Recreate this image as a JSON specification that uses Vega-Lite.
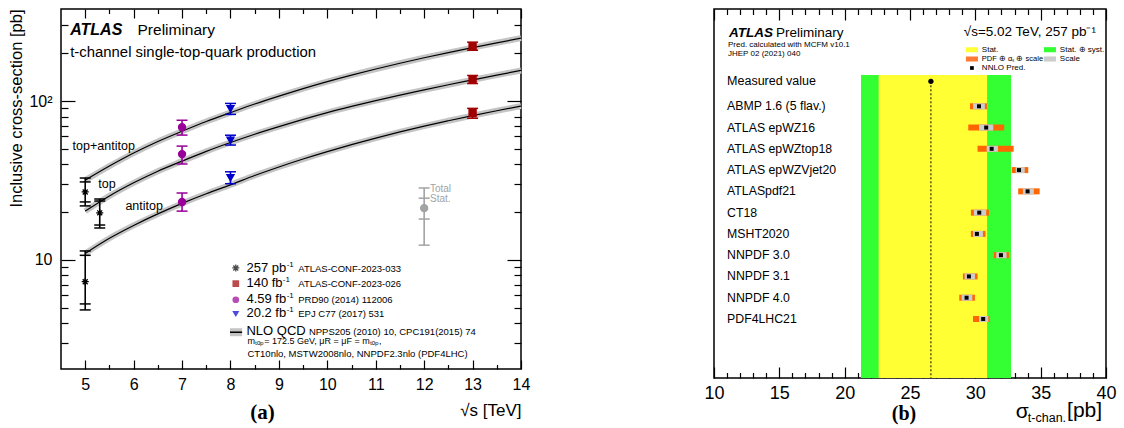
{
"$schema": "https://vega.github.io/schema/vega-lite/v6.json",
"padding": {"left": 8, "top": 7, "right": 0, "bottom": 0},
"spacing": 193,
"bounds": "flush",
"config": {"view": {"stroke": "black", "strokeWidth": 1.5}, "font": "Liberation Sans",
  "axis": {"domain": false, "grid": false, "labelColor": "black", "tickColor": "black", "titleColor": "black", "labelFont": "Liberation Sans", "titleFont": "Liberation Sans", "titleFontWeight": "normal", "tickWidth": 1.2},
  "text": {"font": "Liberation Sans", "color": "black"}},
"datasets": {
 "nlo": [
  {"rs":5,"ch":"top+antitop","xs":31.8},{"rs":5.5,"ch":"top+antitop","xs":39.0},{"rs":6,"ch":"top+antitop","xs":47.1},{"rs":6.5,"ch":"top+antitop","xs":55.7},{"rs":7,"ch":"top+antitop","xs":64.6},{"rs":7.5,"ch":"top+antitop","xs":74.4},{"rs":8,"ch":"top+antitop","xs":84.6},{"rs":8.5,"ch":"top+antitop","xs":95.9},{"rs":9,"ch":"top+antitop","xs":107.6},{"rs":9.5,"ch":"top+antitop","xs":119.9},{"rs":10,"ch":"top+antitop","xs":132.7},{"rs":10.5,"ch":"top+antitop","xs":145.8},{"rs":11,"ch":"top+antitop","xs":159.3},{"rs":11.5,"ch":"top+antitop","xs":173.2},{"rs":12,"ch":"top+antitop","xs":187.4},{"rs":12.5,"ch":"top+antitop","xs":202.0},{"rs":13,"ch":"top+antitop","xs":217.0},{"rs":13.5,"ch":"top+antitop","xs":232.8},{"rs":14,"ch":"top+antitop","xs":249.0},
  {"rs":5,"ch":"top","xs":20.3},{"rs":5.5,"ch":"top","xs":25.3},{"rs":6,"ch":"top","xs":30.6},{"rs":6.5,"ch":"top","xs":36.2},{"rs":7,"ch":"top","xs":41.9},{"rs":7.5,"ch":"top","xs":48.3},{"rs":8,"ch":"top","xs":54.9},{"rs":8.5,"ch":"top","xs":61.9},{"rs":9,"ch":"top","xs":69.1},{"rs":9.5,"ch":"top","xs":76.7},{"rs":10,"ch":"top","xs":84.6},{"rs":10.5,"ch":"top","xs":92.6},{"rs":11,"ch":"top","xs":100.8},{"rs":11.5,"ch":"top","xs":109.2},{"rs":12,"ch":"top","xs":117.8},{"rs":12.5,"ch":"top","xs":126.8},{"rs":13,"ch":"top","xs":136.0},{"rs":13.5,"ch":"top","xs":145.8},{"rs":14,"ch":"top","xs":156.0},
  {"rs":5,"ch":"antitop","xs":11.0},{"rs":5.5,"ch":"antitop","xs":13.7},{"rs":6,"ch":"antitop","xs":16.5},{"rs":6.5,"ch":"antitop","xs":19.5},{"rs":7,"ch":"antitop","xs":22.7},{"rs":7.5,"ch":"antitop","xs":26.1},{"rs":8,"ch":"antitop","xs":29.7},{"rs":8.5,"ch":"antitop","xs":34.0},{"rs":9,"ch":"antitop","xs":38.5},{"rs":9.5,"ch":"antitop","xs":43.2},{"rs":10,"ch":"antitop","xs":48.1},{"rs":10.5,"ch":"antitop","xs":53.2},{"rs":11,"ch":"antitop","xs":58.5},{"rs":11.5,"ch":"antitop","xs":64.0},{"rs":12,"ch":"antitop","xs":69.6},{"rs":12.5,"ch":"antitop","xs":75.2},{"rs":13,"ch":"antitop","xs":81.0},{"rs":13.5,"ch":"antitop","xs":87.0},{"rs":14,"ch":"antitop","xs":93.0}
 ],
 "meas": [
  {"ds":"257","ch":"top+antitop","rs":5.0,"xs":26.8,"lo":21.9,"hi":32.8,"slo":23.2,"shi":31.0},
  {"ds":"257","ch":"top","rs":5.3,"xs":19.8,"lo":15.9,"hi":24.2,"slo":16.6,"shi":23.5},
  {"ds":"257","ch":"antitop","rs":5.0,"xs":7.3,"lo":4.85,"hi":11.4,"slo":5.29,"shi":10.7},
  {"ds":"140","ch":"top+antitop","rs":13,"xs":221,"lo":209,"hi":235},
  {"ds":"140","ch":"top","rs":13,"xs":137,"lo":129,"hi":145},
  {"ds":"140","ch":"antitop","rs":13,"xs":84,"lo":78,"hi":90},
  {"ds":"4.59","ch":"top+antitop","rs":7,"xs":68.5,"lo":61.1,"hi":75.8},
  {"ds":"4.59","ch":"top","rs":7,"xs":46.4,"lo":40.2,"hi":52.1},
  {"ds":"4.59","ch":"antitop","rs":7,"xs":23.2,"lo":20.3,"hi":26.4},
  {"ds":"20.2","ch":"top+antitop","rs":8,"xs":89.6,"lo":82.5,"hi":96.7},
  {"ds":"20.2","ch":"top","rs":8,"xs":56.7,"lo":52.9,"hi":61.0},
  {"ds":"20.2","ch":"antitop","rs":8,"xs":32.9,"lo":30.2,"hi":35.9},
  {"ds":"ref","ch":"legend","rs":12,"xs":21.2,"lo":12.4,"hi":28.4,"slo":18.1,"shi":24.5}
 ],
 "rmeas": [{"name":"Measured value","val":26.6,"slo":22.6,"shi":30.9,"tlo":21.25,"thi":32.73}],
 "pred": [
  {"name":"ABMP 1.6 (5 flav.)","i":1,"c":30.28,"plo":29.59,"phi":30.89,"slo":29.82,"shi":30.73},
  {"name":"ATLAS epWZ16","i":2,"c":30.83,"plo":29.46,"phi":32.21,"slo":30.28,"shi":31.37},
  {"name":"ATLAS epWZtop18","i":3,"c":31.25,"plo":30.17,"phi":32.93,"slo":30.87,"shi":31.73},
  {"name":"ATLAS epWZVjet20","i":4,"c":33.34,"plo":32.78,"phi":34.05,"slo":33.09,"shi":33.78},
  {"name":"ATLASpdf21","i":5,"c":34.0,"plo":33.28,"phi":34.92,"slo":33.64,"shi":34.48},
  {"name":"CT18","i":6,"c":30.3,"plo":29.66,"phi":31.04,"slo":29.89,"shi":30.83},
  {"name":"MSHT2020","i":7,"c":30.12,"plo":29.66,"phi":30.78,"slo":29.82,"shi":30.58},
  {"name":"NNPDF 3.0","i":8,"c":31.96,"plo":31.42,"phi":32.57,"slo":31.6,"shi":32.39},
  {"name":"NNPDF 3.1","i":9,"c":29.51,"plo":29.05,"phi":30.17,"slo":29.18,"shi":29.97},
  {"name":"NNPDF 4.0","i":10,"c":29.33,"plo":28.77,"phi":29.97,"slo":28.95,"shi":29.77},
  {"name":"PDF4LHC21","i":11,"c":30.6,"plo":29.82,"phi":31.09,"slo":30.28,"shi":30.99}
 ]
},
"hconcat": [
 {
  "width": 460, "height": 360,
  "data": {"values": [{}]},
  "resolve": {"axis": {"x": "independent", "y": "independent"}},
  "layer": [
   {"data": {"name": "nlo"},
    "mark": {"type": "line", "color": "#c4c4c4", "strokeWidth": 6, "interpolate": "monotone"},
    "encoding": {
     "x": {"field": "rs", "type": "quantitative", "scale": {"domain": [4.5, 14], "nice": false, "zero": false},
       "axis": {"orient": "bottom", "values": [5,5.5,6,6.5,7,7.5,8,8.5,9,9.5,10,10.5,11,11.5,12,12.5,13,13.5,14],
         "labelExpr": "datum.value % 1 === 0 ? format(datum.value, 'd') : ''",
         "tickSize": {"condition": {"test": "datum.value % 1 === 0", "value": -9}, "value": -4.5},
         "labelPadding": 16, "labelFontSize": 16, "labelFlush": false, "labelOverlap": false,
         "title": "√s [TeV]", "titleAnchor": "end", "titleFontSize": 17, "titlePadding": 6}},
     "y": {"field": "xs", "type": "quantitative", "scale": {"type": "log", "domain": [2.06, 380], "nice": false},
       "axis": {"orient": "left", "values": [3,4,5,6,7,8,9,10,20,30,40,50,60,70,80,90,100,200,300],
         "labelExpr": "datum.value === 100 ? '10²' : (datum.value === 10 ? '10' : '')",
         "tickSize": {"condition": {"test": "datum.value === 10 || datum.value === 100", "value": -14}, "value": -7},
         "labelPadding": 23, "labelFontSize": 16, "labelOverlap": false, "labelFlush": false,
         "title": "Inclusive cross-section [pb]", "titleAnchor": "end", "titleFontSize": 16.5, "titlePadding": 4}},
     "detail": {"field": "ch"}
    }},
   {"data": {"name": "nlo"},
    "mark": {"type": "line", "color": "black", "strokeWidth": 1.2, "interpolate": "monotone"},
    "encoding": {
     "x": {"field": "rs", "type": "quantitative",
       "axis": {"orient": "top", "values": [5,5.5,6,6.5,7,7.5,8,8.5,9,9.5,10,10.5,11,11.5,12,12.5,13,13.5,14], "labels": false,
         "tickSize": {"condition": {"test": "datum.value % 1 === 0", "value": -9}, "value": -4.5}, "title": null}},
     "y": {"field": "xs", "type": "quantitative",
       "axis": {"orient": "right", "values": [3,4,5,6,7,8,9,10,20,30,40,50,60,70,80,90,100,200,300], "labels": false,
         "tickSize": {"condition": {"test": "datum.value === 10 || datum.value === 100", "value": -14}, "value": -7}, "title": null}},
     "detail": {"field": "ch"}
    }},
   {"data": {"name": "meas"},
    "mark": {"type": "rule", "strokeWidth": 1.6},
    "encoding": {
     "x": {"field": "rs", "type": "quantitative", "axis": null},
     "y": {"field": "lo", "type": "quantitative", "axis": null},
     "y2": {"field": "hi"},
     "color": {"field": "ds", "type": "nominal", "legend": null, "scale": {"domain": ["257","140","4.59","20.2","ref"], "range": ["black","#a00000","#990099","#0000cc","#a3a3a3"]}}
    }},
   {"data": {"name": "meas"},
    "transform": [{"fold": ["lo","hi","slo","shi"], "as": ["k","v"]}, {"filter": "isValid(datum.v)"}],
    "mark": {"type": "point", "shape": "M-1,0H1", "filled": false, "strokeWidth": 1.5, "size": 121, "opacity": 1},
    "encoding": {
     "x": {"field": "rs", "type": "quantitative", "axis": null},
     "y": {"field": "v", "type": "quantitative", "axis": null},
     "color": {"field": "ds", "type": "nominal", "legend": null, "scale": {"domain": ["257","140","4.59","20.2","ref"], "range": ["black","#a00000","#990099","#0000cc","#a3a3a3"]}}
    }},
   {"data": {"name": "meas"},
    "mark": {"type": "point", "filled": true, "size": 50, "strokeWidth": 1.3, "opacity": 1},
    "encoding": {
     "x": {"field": "rs", "type": "quantitative", "axis": null},
     "y": {"field": "xs", "type": "quantitative", "axis": null},
     "shape": {"field": "ds", "type": "nominal", "legend": null, "scale": {"domain": ["257","140","4.59","20.2","ref"], "range": ["M-1,0H1M0,-1V1M-0.7,-0.7L0.7,0.7M-0.7,0.7L0.7,-0.7","square","circle","triangle-down","circle"]}},
     "fill": {"field": "ds", "type": "nominal", "legend": null, "scale": {"domain": ["257","140","4.59","20.2","ref"], "range": ["black","#a00000","#990099","#0000cc","#a3a3a3"]}},
     "stroke": {"field": "ds", "type": "nominal", "legend": null, "scale": {"domain": ["257","140","4.59","20.2","ref"], "range": ["black","#a00000","#990099","#0000cc","#a3a3a3"]}}
    }},
   {"mark": {"type": "text", "align": "left", "baseline": "middle", "fontSize": 16, "fontWeight": "bold", "fontStyle": "italic"},
    "encoding": {"x": {"datum": 4.69, "axis": null}, "y": {"datum": 280, "axis": null}, "text": {"value": "ATLAS"}}},
   {"mark": {"type": "text", "align": "left", "baseline": "middle", "fontSize": 15.5},
    "encoding": {"x": {"datum": 6.08, "axis": null}, "y": {"datum": 280, "axis": null}, "text": {"value": "Preliminary"}}},
   {"mark": {"type": "text", "align": "left", "baseline": "middle", "fontSize": 14.9},
    "encoding": {"x": {"datum": 4.69, "axis": null}, "y": {"datum": 200, "axis": null}, "text": {"value": "t-channel single-top-quark production"}}},
   {"mark": {"type": "text", "align": "left", "baseline": "middle", "fontSize": 12.5},
    "encoding": {"x": {"datum": 4.74, "axis": null}, "y": {"datum": 52.1, "axis": null}, "text": {"value": "top+antitop"}}},
   {"mark": {"type": "text", "align": "left", "baseline": "middle", "fontSize": 12.5},
    "encoding": {"x": {"datum": 5.27, "axis": null}, "y": {"datum": 30.1, "axis": null}, "text": {"value": "top"}}},
   {"mark": {"type": "text", "align": "left", "baseline": "middle", "fontSize": 12.5},
    "encoding": {"x": {"datum": 5.83, "axis": null}, "y": {"datum": 21.9, "axis": null}, "text": {"value": "antitop"}}},
   {"mark": {"type": "text", "align": "left", "baseline": "middle", "fontSize": 10, "color": "#a3a3a3"},
    "encoding": {"x": {"datum": 12.12, "axis": null}, "y": {"datum": 28.0, "axis": null}, "text": {"value": "Total"}}},
   {"mark": {"type": "text", "align": "left", "baseline": "middle", "fontSize": 10, "color": "#a3a3a3"},
    "encoding": {"x": {"datum": 12.12, "axis": null}, "y": {"datum": 24.2, "axis": null}, "text": {"value": "Stat."}}},
   {"mark": {"type": "point", "filled": false, "size": 50, "strokeWidth": 1.3, "color": "black", "shape": "M-1,0H1M0,-1V1M-0.7,-0.7L0.7,0.7M-0.7,0.7L0.7,-0.7"},
    "encoding": {"x": {"datum": 8.11, "axis": null}, "y": {"datum": 8.91, "axis": null}}},
   {"mark": {"type": "point", "filled": true, "size": 45, "color": "#a00000", "shape": "square"},
    "encoding": {"x": {"datum": 8.11, "axis": null}, "y": {"datum": 7.10, "axis": null}}},
   {"mark": {"type": "point", "filled": true, "size": 45, "color": "#990099", "shape": "circle"},
    "encoding": {"x": {"datum": 8.11, "axis": null}, "y": {"datum": 5.62, "axis": null}}},
   {"mark": {"type": "point", "filled": true, "size": 50, "color": "#0000cc", "shape": "triangle-down"},
    "encoding": {"x": {"datum": 8.11, "axis": null}, "y": {"datum": 4.57, "axis": null}}},
   {"mark": {"type": "rule", "strokeWidth": 8, "color": "#c4c4c4"},
    "encoding": {"x": {"datum": 7.99, "axis": null}, "x2": {"datum": 8.24}, "y": {"datum": 3.51, "axis": null}}},
   {"mark": {"type": "rule", "strokeWidth": 1.5, "color": "black"},
    "encoding": {"x": {"datum": 7.99, "axis": null}, "x2": {"datum": 8.24}, "y": {"datum": 3.51, "axis": null}}},
   {"mark": {"type": "text", "align": "left", "baseline": "alphabetic", "fontSize": 13},
    "encoding": {"x": {"datum": 8.33, "axis": null}, "y": {"datum": 8.40, "axis": null}, "text": {"value": "257 pb"}}},
   {"mark": {"type": "text", "align": "left", "baseline": "alphabetic", "fontSize": 13},
    "encoding": {"x": {"datum": 8.33, "axis": null}, "y": {"datum": 6.73, "axis": null}, "text": {"value": "140 fb"}}},
   {"mark": {"type": "text", "align": "left", "baseline": "alphabetic", "fontSize": 13},
    "encoding": {"x": {"datum": 8.33, "axis": null}, "y": {"datum": 5.37, "axis": null}, "text": {"value": "4.59 fb"}}},
   {"mark": {"type": "text", "align": "left", "baseline": "alphabetic", "fontSize": 13},
    "encoding": {"x": {"datum": 8.33, "axis": null}, "y": {"datum": 4.36, "axis": null}, "text": {"value": "20.2 fb"}}},
   {"mark": {"type": "text", "align": "left", "baseline": "alphabetic", "fontSize": 8},
    "encoding": {"x": {"datum": 9.16, "axis": null}, "y": {"datum": 9.03, "axis": null}, "text": {"value": "-1"}}},
   {"mark": {"type": "text", "align": "left", "baseline": "alphabetic", "fontSize": 8},
    "encoding": {"x": {"datum": 9.08, "axis": null}, "y": {"datum": 7.24, "axis": null}, "text": {"value": "-1"}}},
   {"mark": {"type": "text", "align": "left", "baseline": "alphabetic", "fontSize": 8},
    "encoding": {"x": {"datum": 9.16, "axis": null}, "y": {"datum": 5.77, "axis": null}, "text": {"value": "-1"}}},
   {"mark": {"type": "text", "align": "left", "baseline": "alphabetic", "fontSize": 8},
    "encoding": {"x": {"datum": 9.16, "axis": null}, "y": {"datum": 4.69, "axis": null}, "text": {"value": "-1"}}},
   {"mark": {"type": "text", "align": "left", "baseline": "alphabetic", "fontSize": 13},
    "encoding": {"x": {"datum": 8.33, "axis": null}, "y": {"datum": 3.36, "axis": null}, "text": {"value": "NLO QCD"}}},
   {"mark": {"type": "text", "align": "left", "baseline": "alphabetic", "fontSize": 9.5},
    "encoding": {"x": {"datum": 9.4, "axis": null}, "y": {"datum": 8.40, "axis": null}, "text": {"value": "ATLAS-CONF-2023-033"}}},
   {"mark": {"type": "text", "align": "left", "baseline": "alphabetic", "fontSize": 9.5},
    "encoding": {"x": {"datum": 9.4, "axis": null}, "y": {"datum": 6.73, "axis": null}, "text": {"value": "ATLAS-CONF-2023-026"}}},
   {"mark": {"type": "text", "align": "left", "baseline": "alphabetic", "fontSize": 9.5},
    "encoding": {"x": {"datum": 9.4, "axis": null}, "y": {"datum": 5.37, "axis": null}, "text": {"value": "PRD90 (2014) 112006"}}},
   {"mark": {"type": "text", "align": "left", "baseline": "alphabetic", "fontSize": 9.5},
    "encoding": {"x": {"datum": 9.4, "axis": null}, "y": {"datum": 4.36, "axis": null}, "text": {"value": "EPJ C77 (2017) 531"}}},
   {"mark": {"type": "text", "align": "left", "baseline": "alphabetic", "fontSize": 9.5},
    "encoding": {"x": {"datum": 9.62, "axis": null}, "y": {"datum": 3.36, "axis": null}, "text": {"value": "NPPS205 (2010) 10, CPC191(2015) 74"}}},
   {"mark": {"type": "text", "align": "left", "baseline": "alphabetic", "fontSize": 9},
    "encoding": {"x": {"datum": 8.35, "axis": null}, "y": {"datum": 2.96, "axis": null}, "text": {"value": "mₜₒₚ= 172.5 GeV, μR = μF = mₜₒₚ,"}}},
   {"mark": {"type": "text", "align": "left", "baseline": "alphabetic", "fontSize": 9.5},
    "encoding": {"x": {"datum": 8.35, "axis": null}, "y": {"datum": 2.44, "axis": null}, "text": {"value": "CT10nlo, MSTW2008nlo, NNPDF2.3nlo (PDF4LHC)"}}},
   {"mark": {"type": "text", "align": "center", "baseline": "middle", "fontSize": 21, "font": "Liberation Serif", "fontWeight": "bold"},
    "encoding": {"x": {"datum": 8.66, "axis": null}, "y": {"datum": 1.09, "axis": null}, "text": {"value": "(a)"}}}
  ]
 },
 {
  "width": 392, "height": 369,
  "data": {"values": [{}]},
  "resolve": {"axis": {"x": "independent"}},
  "layer": [
   {"data": {"name": "rmeas"},
    "mark": {"type": "rect", "color": "#33ff33"},
    "encoding": {
     "x": {"field": "tlo", "type": "quantitative", "scale": {"domain": [10, 40], "nice": false, "zero": false},
       "axis": {"orient": "bottom", "values": [10,11,12,13,14,15,16,17,18,19,20,21,22,23,24,25,26,27,28,29,30,31,32,33,34,35,36,37,38,39,40],
         "labelExpr": "datum.value % 5 === 0 ? format(datum.value, 'd') : ''",
         "tickSize": {"condition": {"test": "datum.value % 5 === 0", "value": -11}, "value": -5.5},
         "labelPadding": 17, "labelFontSize": 18, "labelFlush": false, "labelOverlap": false, "title": null}},
     "x2": {"field": "thi"},
     "y": {"datum": -0.47, "type": "quantitative", "scale": {"domain": [-3.574, 13.775], "nice": false, "zero": false, "reverse": true}, "axis": null},
     "y2": {"datum": 13.775}
    }},
   {"data": {"name": "rmeas"},
    "mark": {"type": "rect", "color": "#ffff33"},
    "encoding": {
     "x": {"field": "slo", "type": "quantitative",
       "axis": {"orient": "top", "values": [10,11,12,13,14,15,16,17,18,19,20,21,22,23,24,25,26,27,28,29,30,31,32,33,34,35,36,37,38,39,40], "labels": false,
         "tickSize": {"condition": {"test": "datum.value % 5 === 0", "value": -11}, "value": -5.5}, "title": null}},
     "x2": {"field": "shi"},
     "y": {"datum": -0.47, "type": "quantitative", "axis": null},
     "y2": {"datum": 13.775}
    }},
   {"data": {"name": "rmeas"},
    "mark": {"type": "rule", "color": "black", "strokeWidth": 1, "strokeDash": [2, 2]},
    "encoding": {"x": {"field": "val", "type": "quantitative", "axis": null}, "y": {"datum": -0.175, "axis": null}, "y2": {"datum": 13.775}}},
   {"data": {"name": "rmeas"},
    "mark": {"type": "point", "filled": true, "color": "black", "size": 28, "shape": "circle", "opacity": 1},
    "encoding": {"x": {"field": "val", "type": "quantitative", "axis": null}, "y": {"datum": -0.175, "axis": null}}},
   {"data": {"name": "rmeas"},
    "mark": {"type": "text", "align": "left", "baseline": "middle", "fontSize": 12.5},
    "encoding": {"x": {"datum": 11.0, "axis": null}, "y": {"datum": -0.175, "axis": null}, "text": {"field": "name"}}},
   {"data": {"name": "pred"},
    "mark": {"type": "rule", "color": "#ff6600", "strokeWidth": 6},
    "encoding": {"x": {"field": "plo", "type": "quantitative", "axis": null}, "x2": {"field": "phi"}, "y": {"field": "i", "type": "quantitative", "axis": null}}},
   {"data": {"name": "pred"},
    "mark": {"type": "rule", "color": "#cccccc", "strokeWidth": 6},
    "encoding": {"x": {"field": "slo", "type": "quantitative", "axis": null}, "x2": {"field": "shi"}, "y": {"field": "i", "type": "quantitative", "axis": null}}},
   {"data": {"name": "pred"},
    "mark": {"type": "point", "filled": true, "color": "black", "size": 16, "shape": "square", "opacity": 1},
    "encoding": {"x": {"field": "c", "type": "quantitative", "axis": null}, "y": {"field": "i", "type": "quantitative", "axis": null}}},
   {"data": {"name": "pred"},
    "mark": {"type": "text", "align": "left", "baseline": "middle", "fontSize": 12.3},
    "encoding": {"x": {"datum": 11.0, "axis": null}, "y": {"field": "i", "type": "quantitative", "axis": null}, "text": {"field": "name"}}},
   {"mark": {"type": "text", "align": "left", "baseline": "middle", "fontSize": 13.5, "fontWeight": "bold", "fontStyle": "italic"},
    "encoding": {"x": {"datum": 11.15, "axis": null}, "y": {"datum": -2.446, "axis": null}, "text": {"value": "ATLAS"}}},
   {"mark": {"type": "text", "align": "left", "baseline": "middle", "fontSize": 13.5},
    "encoding": {"x": {"datum": 14.74, "axis": null}, "y": {"datum": -2.446, "axis": null}, "text": {"value": "Preliminary"}}},
   {"mark": {"type": "text", "align": "left", "baseline": "middle", "fontSize": 8},
    "encoding": {"x": {"datum": 11.07, "axis": null}, "y": {"datum": -1.882, "axis": null}, "text": {"value": "Pred. calculated with MCFM v10.1"}}},
   {"mark": {"type": "text", "align": "left", "baseline": "middle", "fontSize": 8},
    "encoding": {"x": {"datum": 11.07, "axis": null}, "y": {"datum": -1.459, "axis": null}, "text": {"value": "JHEP 02 (2021) 040"}}},
   {"mark": {"type": "text", "align": "right", "baseline": "middle", "fontSize": 13.5},
    "encoding": {"x": {"datum": 39.23, "axis": null}, "y": {"datum": -2.47, "axis": null}, "text": {"value": "√s=5.02 TeV, 257 pb⁻¹"}}},
   {"mark": {"type": "rect", "color": "#ffff33"},
    "encoding": {"x": {"datum": 29.28, "axis": null}, "x2": {"datum": 30.2}, "y": {"datum": -1.78, "axis": null}, "y2": {"datum": -1.54}}},
   {"mark": {"type": "rect", "color": "#33ff33"},
    "encoding": {"x": {"datum": 35.25, "axis": null}, "x2": {"datum": 36.17}, "y": {"datum": -1.78, "axis": null}, "y2": {"datum": -1.54}}},
   {"mark": {"type": "rect", "color": "#ff7a33"},
    "encoding": {"x": {"datum": 29.28, "axis": null}, "x2": {"datum": 30.2}, "y": {"datum": -1.344, "axis": null}, "y2": {"datum": -1.104}}},
   {"mark": {"type": "rect", "color": "#cccccc"},
    "encoding": {"x": {"datum": 35.25, "axis": null}, "x2": {"datum": 36.17}, "y": {"datum": -1.344, "axis": null}, "y2": {"datum": -1.104}}},
   {"mark": {"type": "point", "filled": true, "color": "black", "size": 14, "shape": "square", "opacity": 1},
    "encoding": {"x": {"datum": 29.74, "axis": null}, "y": {"datum": -0.80, "axis": null}}},
   {"mark": {"type": "text", "align": "left", "baseline": "middle", "fontSize": 8},
    "encoding": {"x": {"datum": 30.5, "axis": null}, "y": {"datum": -1.66, "axis": null}, "text": {"value": "Stat."}}},
   {"mark": {"type": "text", "align": "left", "baseline": "middle", "fontSize": 8},
    "encoding": {"x": {"datum": 36.47, "axis": null}, "y": {"datum": -1.66, "axis": null}, "text": {"value": "Stat. ⊕ syst."}}},
   {"mark": {"type": "text", "align": "left", "baseline": "middle", "fontSize": 7.5},
    "encoding": {"x": {"datum": 30.5, "axis": null}, "y": {"datum": -1.224, "axis": null}, "text": {"value": "PDF ⊕ αₛ ⊕ scale"}}},
   {"mark": {"type": "text", "align": "left", "baseline": "middle", "fontSize": 8},
    "encoding": {"x": {"datum": 36.47, "axis": null}, "y": {"datum": -1.224, "axis": null}, "text": {"value": "Scale"}}},
   {"mark": {"type": "text", "align": "left", "baseline": "middle", "fontSize": 8},
    "encoding": {"x": {"datum": 30.5, "axis": null}, "y": {"datum": -0.80, "axis": null}, "text": {"value": "NNLO Pred."}}},
   {"mark": {"type": "text", "align": "left", "baseline": "middle", "fontSize": 21},
    "encoding": {"x": {"datum": 33.1, "axis": null}, "y": {"datum": 15.38, "axis": null}, "text": {"value": "σ"}}},
   {"mark": {"type": "text", "align": "left", "baseline": "middle", "fontSize": 12.5},
    "encoding": {"x": {"datum": 34.02, "axis": null}, "y": {"datum": 15.66, "axis": null}, "text": {"value": "t-chan."}}},
   {"mark": {"type": "text", "align": "left", "baseline": "middle", "fontSize": 21},
    "encoding": {"x": {"datum": 37.02, "axis": null}, "y": {"datum": 15.33, "axis": null}, "text": {"value": "[pb]"}}},
   {"mark": {"type": "text", "align": "center", "baseline": "middle", "fontSize": 20, "font": "Liberation Serif", "fontWeight": "bold"},
    "encoding": {"x": {"datum": 24.54, "axis": null}, "y": {"datum": 15.45, "axis": null}, "text": {"value": "(b)"}}}
  ]
 }
]
}
